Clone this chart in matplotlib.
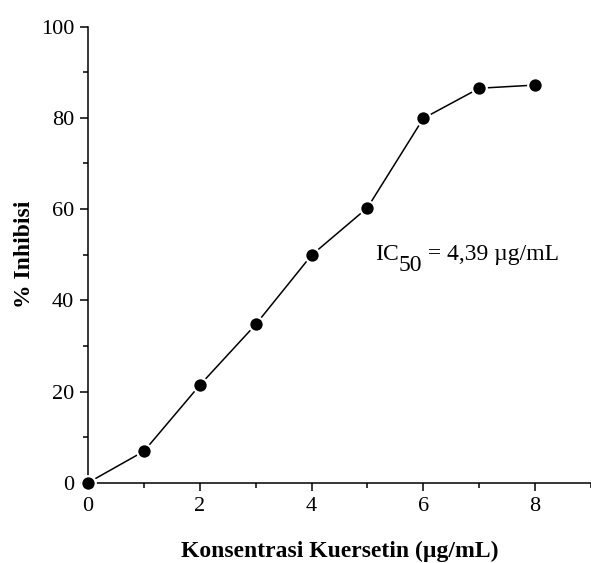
import matplotlib
matplotlib.use("Agg")
import matplotlib.pyplot as plt
from matplotlib.ticker import MultipleLocator

# data
konsentrasi = [0, 1, 2, 3, 4, 5, 6, 7, 8]
inhibisi = [0, 6.9, 21.4, 34.7, 49.9, 60.3, 79.9, 86.5, 87.2]

plt.rcParams['font.family'] = ['Liberation Serif', 'DejaVu Serif']

fig = plt.figure(figsize=(5.91, 5.63), dpi=100)
ax = fig.add_axes([0.149, 0.1426, 0.851, 0.81])

ax.plot(konsentrasi, inhibisi, color='black', lw=1.1, marker='o', ms=10.5,
        markerfacecolor='black', markeredgecolor='white', markeredgewidth=1.6,
        clip_on=False, zorder=3)

ax.set_xlim(0, 9)
ax.set_ylim(0, 100)
ax.xaxis.set_major_locator(MultipleLocator(2))
ax.xaxis.set_minor_locator(MultipleLocator(1))
ax.yaxis.set_major_locator(MultipleLocator(20))
ax.yaxis.set_minor_locator(MultipleLocator(10))

for s in ['top', 'right']:
    ax.spines[s].set_visible(False)
for s in ['left', 'bottom']:
    ax.spines[s].set_linewidth(1.1)

ax.tick_params(which='major', direction='out', length=6, width=1.1, labelsize=16, pad=4)
ax.tick_params(which='minor', direction='out', length=3.5, width=1.1)

ax.set_xlabel('Konsentrasi Kuersetin (\u00b5g/mL)', fontsize=17, fontweight='bold', labelpad=18)
ax.set_ylabel('% Inhibisi', fontsize=17, fontweight='bold', labelpad=4)

# IC50 label, subscript is as large as the main text
t1 = ax.text(5.13, 47.8, 'IC', fontsize=17, va='bottom', ha='left')
t2 = ax.annotate('50', xy=(1, 0), xycoords=t1, xytext=(0, -8), textcoords='offset points',
                 fontsize=17, va='bottom', ha='left')
ax.annotate(' = 4,39 \u00b5g/mL', xy=(1, 0), xycoords=(t2, t1), fontsize=17,
            va='bottom', ha='left')

fig.savefig('out.png', dpi=100)
